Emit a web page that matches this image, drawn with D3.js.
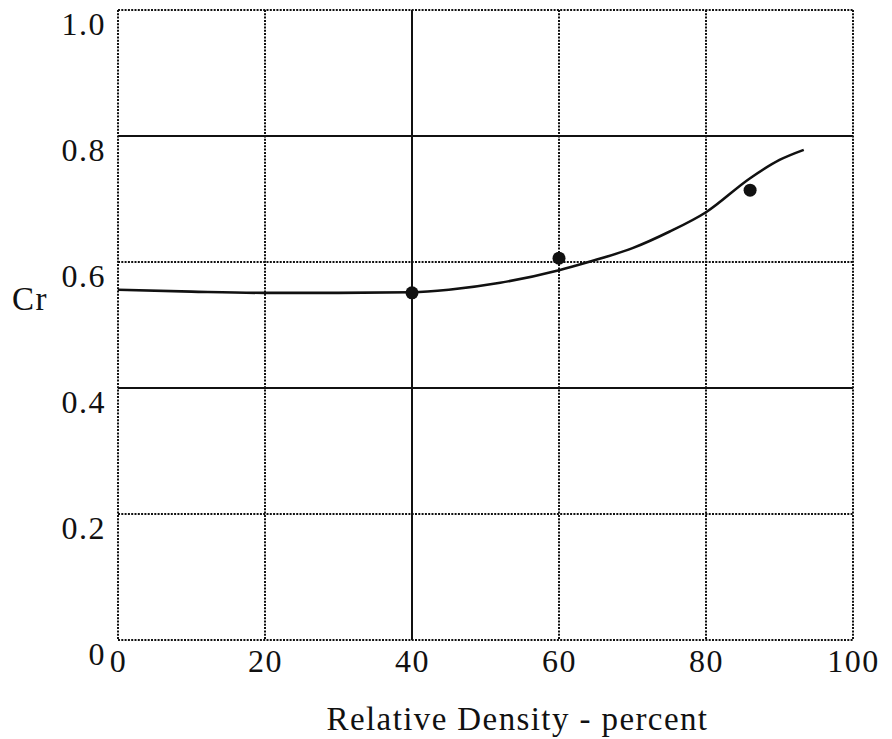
<!DOCTYPE html>
<html>
<head>
<meta charset="utf-8">
<script src="https://cdn.jsdelivr.net/npm/d3@7"></script>
<style>
  html, body { margin: 0; padding: 0; background: #fff; }
  svg text { font-family: "Liberation Serif", "Times New Roman", serif; fill: #111; }
</style>
</head>
<body>
<svg id="chart" width="892" height="739"></svg>
<script>
// ---- data ----
const xTicks = [0, 20, 40, 60, 80, 100];
const yTicks = [0, 0.2, 0.4, 0.6, 0.8, 1.0];
const yTickLabels = ["0", "0.2", "0.4", "0.6", "0.8", "1.0"];
const xTickLabels = ["0", "20", "40", "60", "80", "100"];
// measured points
const pointX = [40, 60, 86];
const pointY = [0.551, 0.606, 0.714];
// fitted curve
const curveX = [0, 10, 20, 30, 40, 45, 52, 60, 64, 70, 75, 80, 86, 90, 93.3];
const curveY = [0.556, 0.553, 0.551, 0.551, 0.552, 0.556, 0.567, 0.587, 0.600, 0.622, 0.648, 0.679, 0.733, 0.762, 0.778];
// gridline styles (solid or dotted)
const xGridSolid = [false, false, true, false, false, false];
const yGridSolid = [false, false, true, false, true, false];

const xLabel = "Relative Density - percent";
const yLabel = "Cr";

// ---- layout ----
const svg = d3.select("#chart");
const mLeft = 118, mRight = 853, mTop = 10, mBottom = 640;
const x = d3.scaleLinear().domain([0, 100]).range([mLeft, mRight]);
const y = d3.scaleLinear().domain([0, 1.0]).range([mBottom, mTop]);

svg.append("rect").attr("width", 892).attr("height", 739).attr("fill", "#fff");

// grid lines
const grid = svg.append("g");
xTicks.forEach((v, i) => {
  grid.append("line")
    .attr("x1", x(v)).attr("x2", x(v))
    .attr("y1", mTop).attr("y2", mBottom)
    .attr("stroke", "#111")
    .attr("stroke-width", 2)
    .attr("stroke-dasharray", xGridSolid[i] ? null : "2,1.3");
});
yTicks.forEach((v, i) => {
  grid.append("line")
    .attr("x1", mLeft).attr("x2", mRight)
    .attr("y1", y(v)).attr("y2", y(v))
    .attr("stroke", "#111")
    .attr("stroke-width", 2)
    .attr("stroke-dasharray", yGridSolid[i] ? null : "2,1.3");
});

// axis tick labels via d3 axes (no domain/ticks lines)
const xAxis = d3.axisBottom(x).tickValues(xTicks)
  .tickFormat((d, i) => xTickLabels[i]).tickSize(0).tickPadding(0);
const gx = svg.append("g").attr("transform", `translate(0,${mBottom})`).call(xAxis);
gx.select(".domain").remove();
gx.selectAll("text")
  .attr("y", 32).attr("dy", null)
  .style("font-size", "32px").style("letter-spacing", "1.5px")
  .attr("fill", "#111");

const yAxis = d3.axisLeft(y).tickValues(yTicks)
  .tickFormat((d, i) => yTickLabels[i]).tickSize(0).tickPadding(0);
const gy = svg.append("g").attr("transform", `translate(${mLeft - 12},0)`).call(yAxis);
gy.select(".domain").remove();
gy.selectAll("text")
  .attr("x", 0).attr("dy", null).attr("y", 24)
  .attr("text-anchor", "end")
  .style("font-size", "32px").style("letter-spacing", "1.5px")
  .attr("fill", "#111");

// axis titles
svg.append("text")
  .attr("x", (mLeft + mRight) / 2 + 32).attr("y", 730)
  .attr("text-anchor", "middle")
  .style("font-size", "33px").style("letter-spacing", "1.4px")
  .text(xLabel);
svg.append("text")
  .attr("x", 12).attr("y", 310)
  .style("font-size", "33px").style("letter-spacing", "1.5px")
  .text(yLabel);

// curve
const line = d3.line()
  .x(d => x(d[0])).y(d => y(d[1]))
  .curve(d3.curveMonotoneX);
svg.append("path")
  .datum(curveX.map((v, i) => [v, curveY[i]]))
  .attr("d", line)
  .attr("fill", "none")
  .attr("stroke", "#111")
  .attr("stroke-width", 2.6);

// points
svg.append("g").selectAll("circle")
  .data(pointX.map((v, i) => [v, pointY[i]]))
  .join("circle")
  .attr("cx", d => x(d[0])).attr("cy", d => y(d[1]))
  .attr("r", 6.5)
  .attr("fill", "#111");
</script>
</body>
</html>
